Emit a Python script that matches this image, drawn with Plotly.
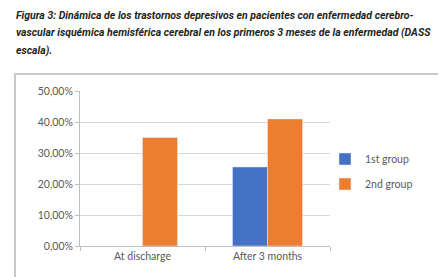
import plotly.graph_objects as go

categories = ["At discharge", "After 3 months"]
group1 = [None, 0.255]
group2 = [0.35, 0.41]
series_names = ["1st group", "2nd group"]
y_ticks = [0, 0.1, 0.2, 0.3, 0.4, 0.5]
title_lines = [
    "Figura 3: Dinámica de los trastornos depresivos en pacientes con enfermedad cerebro-",
    "vascular isquémica hemisférica cerebral en los primeros 3 meses de la enfermedad (DASS",
    "escala).",
]

W, H = 446, 277
L, R, T, B = 72, 124, 83, 39
pw, ph = W - L - R, H - T - B

def px(x):
    return (x - L) / pw

def py(y):
    return (H - B - y) / ph

fig = go.Figure()
fig.add_trace(go.Bar(x=categories, y=group1, name=series_names[0], marker_color="#4472c4",
                     legendgroup="a"))
fig.add_trace(go.Bar(x=categories, y=group2, name=series_names[1], marker_color="#ed7d31",
                     legendgroup="b"))

tick_font = dict(family="Lato, Open Sans, sans-serif", size=10.5, color="#595959")

fig.update_layout(
    width=W, height=H,
    margin=dict(l=L, r=R, t=T, b=B),
    paper_bgcolor="white", plot_bgcolor="white",
    barmode="group", bargap=0.44, bargroupgap=0,
    separators=",.",
    showlegend=True,
    legend=dict(x=px(317), y=py(163.5), xanchor="left", yanchor="middle",
                font=tick_font, bgcolor="rgba(0,0,0,0)", tracegroupgap=6,
                itemwidth=30),
    xaxis=dict(showline=True, linecolor="#bfbfbf", linewidth=1,
               ticks="outside", tickson="boundaries", ticklen=4, tickcolor="#bfbfbf",
               tickfont=tick_font, showgrid=False),
    yaxis=dict(range=[0, 0.5], tickvals=y_ticks, tickformat=".2%",
               showline=True, linecolor="#bfbfbf", linewidth=1,
               ticks="outside", ticklen=4, tickcolor="#bfbfbf",
               gridcolor="#d9d9d9", gridwidth=1, tickfont=tick_font,
               zeroline=False),
)

# chart frame
fig.add_shape(type="rect", xref="paper", yref="paper",
              x0=px(7), x1=px(433), y0=py(272), y1=py(66),
              line=dict(color="#c8c8c8", width=2), layer="below")

for i, line in enumerate(title_lines):
    fig.add_annotation(xref="paper", yref="paper", x=px(6), y=py(-1.5 + i * 17.5),
                       xanchor="left", yanchor="top", showarrow=False,
                       text="<b><i>" + line + "</i></b>",
                       font=dict(family="Roboto, Liberation Sans, sans-serif",
                                 size=10.5, color="#231f20"))

fig.write_html("out.html")
